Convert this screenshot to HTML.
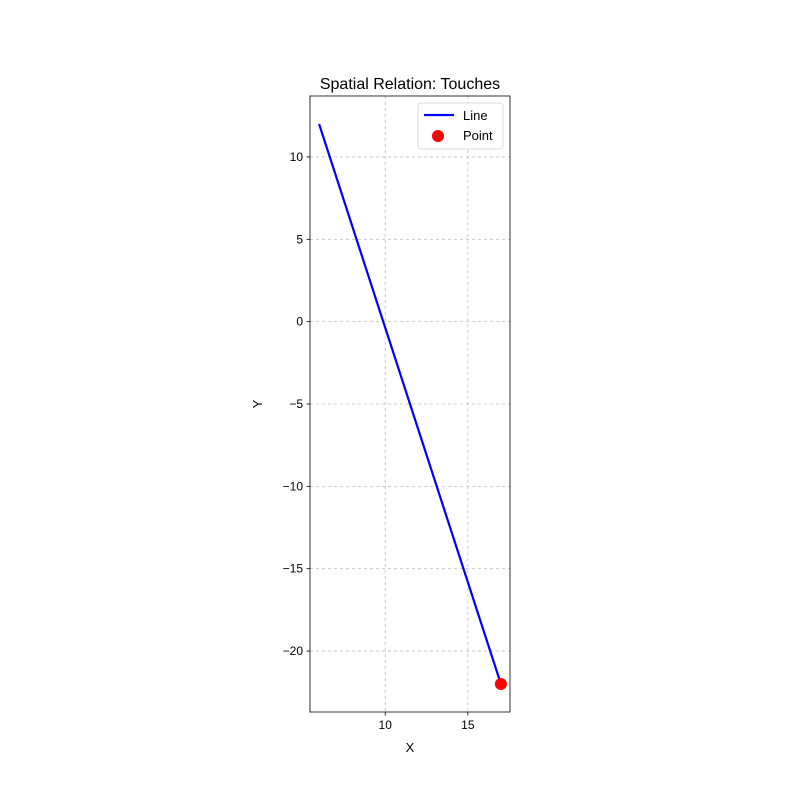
<!DOCTYPE html>
<html><head><meta charset="utf-8"><style>
body{margin:0;background:#fff;font-family:"Liberation Sans","DejaVu Sans",sans-serif}
</style></head><body>
<svg id="chart" width="800" height="800" xmlns="http://www.w3.org/2000/svg"></svg>
<script>
const lineX=[6,17];
const lineY=[12,-22];
const pointX=[17];
const pointY=[-22];
const xTicks=[10,15];
const yTicks=[10,5,0,-5,-10,-15,-20];
const L=310,R=510,T=96,B=712;
const xmin=5.45,xmax=17.55,ymin=-23.7,ymax=13.7;
const sx=v=>L+(v-xmin)/(xmax-xmin)*(R-L);
const sy=v=>B-(v-ymin)/(ymax-ymin)*(B-T);
const svg=document.getElementById('chart');
const NS='http://www.w3.org/2000/svg';
function mk(tag,attrs,parent){const e=document.createElementNS(NS,tag);for(const k in attrs)e.setAttribute(k,attrs[k]);(parent||svg).appendChild(e);return e;}
const grid=mk('g',{});


xTicks.forEach(v=>{
 mk('line',{x1:sx(v),x2:sx(v),y1:T,y2:B,stroke:'#b0b0b0','stroke-width':0.8,'stroke-dasharray':'3,3',opacity:0.8},grid);
 mk('line',{x1:sx(v),x2:sx(v),y1:B,y2:B+3.5,stroke:'#000','stroke-width':0.8});
 const t=mk('text',{x:sx(v),y:B+17,'text-anchor':'middle','font-size':12});
 t.textContent=v;
 
 
});
yTicks.forEach(v=>{
 mk('line',{x1:L,x2:R,y1:sy(v),y2:sy(v),stroke:'#b0b0b0','stroke-width':0.8,'stroke-dasharray':'3,3',opacity:0.8},grid);
 mk('line',{x1:L-3.5,x2:L,y1:sy(v),y2:sy(v),stroke:'#000','stroke-width':0.8});
 const t=mk('text',{x:L-7,y:sy(v)+4,'text-anchor':'end','font-size':12});
 t.textContent=v<0?'\u2212'+Math.abs(v):v;
 
 
});
const ln=mk('polyline',{points:lineX.map((x,i)=>sx(x)+','+sy(lineY[i])).join(' '),fill:'none',stroke:'#0000ff','stroke-width':2.2});


pointX.forEach((x,i)=>{
 const c=mk('circle',{cx:sx(x),cy:sy(pointY[i]),r:6,fill:'#ff0000'});
 
 
});
const frame=mk('rect',{x:L,y:T,width:R-L,height:B-T,fill:'none',stroke:'#000','stroke-width':0.8});


const title=mk('text',{x:(L+R)/2,y:89,'text-anchor':'middle','font-size':16});
title.textContent='Spatial Relation: Touches';


const xl=mk('text',{x:(L+R)/2,y:752,'text-anchor':'middle','font-size':13});
xl.textContent='X';


const yl=mk('text',{x:262,y:404,'text-anchor':'middle','font-size':13,transform:'rotate(-90 262 404)'});
yl.textContent='Y';


const lg=mk('g',{});


mk('rect',{x:418,y:103,width:85,height:46,rx:3,fill:'#fff',stroke:'#ccc','stroke-width':0.8,opacity:0.9},lg);
mk('line',{x1:424,x2:454,y1:115,y2:115,stroke:'#0000ff','stroke-width':2.2},lg);
const t1=mk('text',{x:463,y:120,'font-size':13},lg);t1.textContent='Line';


mk('circle',{cx:438,cy:136,r:6,fill:'#ff0000'},lg);
const t2=mk('text',{x:463,y:140,'font-size':13},lg);t2.textContent='Point';


</script>
</body></html>
